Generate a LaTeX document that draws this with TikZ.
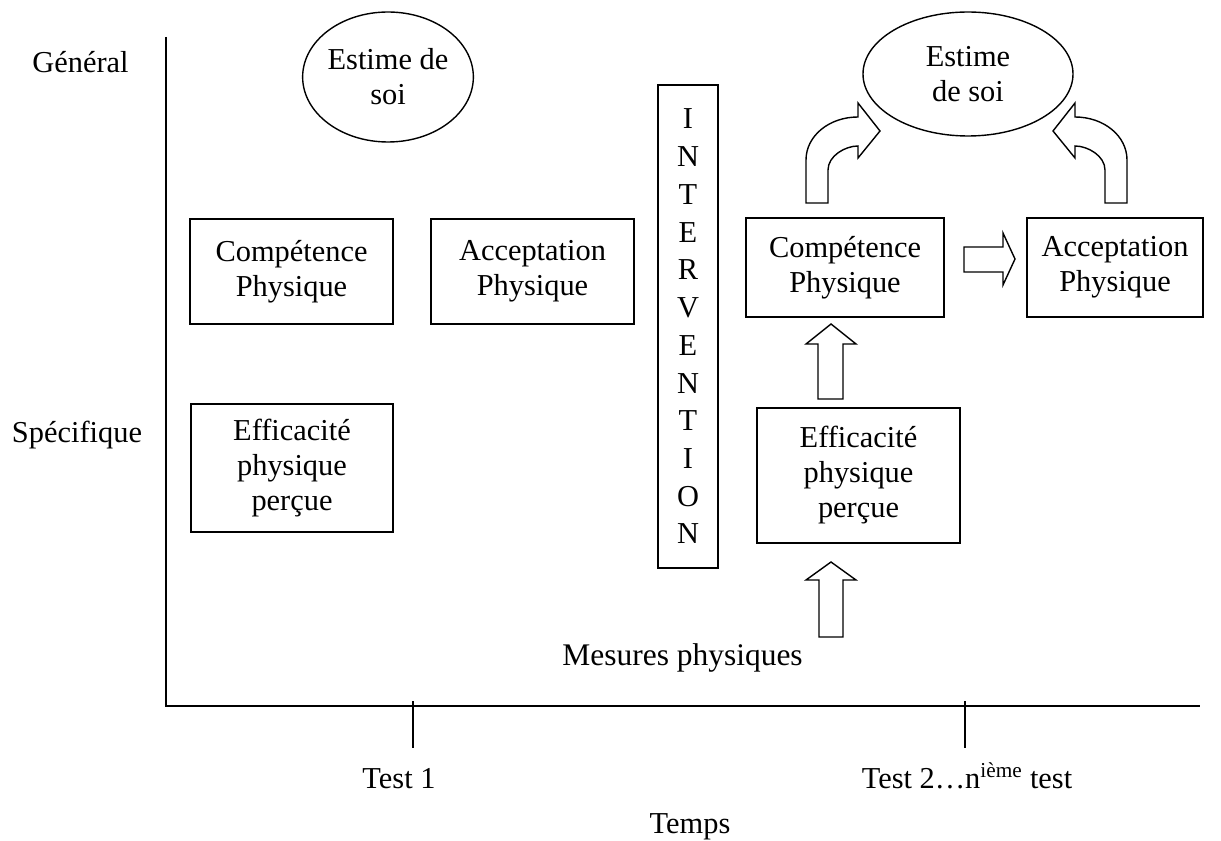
\documentclass[tikz,border=0pt]{standalone}
\usepackage{fontspec}
\setmainfont{Liberation Serif}
\usetikzlibrary{shapes.geometric}
\begin{document}
\begin{tikzpicture}[x=0.75pt,y=-0.75pt,
  every node/.style={font=\fontsize{22.8pt}{26.25pt}\selectfont},
  box/.style={draw,line width=1.05pt,inner sep=0pt,align=center},
  oval/.style={draw,ellipse,line width=1.05pt,inner sep=0pt,align=center},
  blockarrow/.style={draw,line width=1.05pt,line join=miter,fill=white},
  axis/.style={line width=1.5pt},
  lbl/.style={anchor=base,inner sep=0pt}]
\useasboundingbox (0,0) rectangle (1221,841);
% axes
\coordinate (Ytop) at (166,37);
\coordinate (O) at (166,706);
\coordinate (Xend) at (1200,706);
\coordinate (t1a) at (413,701);
\coordinate (t1b) at (413,748);
\coordinate (t2a) at (965,701);
\coordinate (t2b) at (965,748);
\draw[axis] (Ytop) -- (O) -- (Xend);
\draw[axis] (t1a) -- (t1b);
\draw[axis] (t2a) -- (t2b);
% axis labels
\node[lbl] (gen) at (80.5,73) {Général};
\node[lbl] (spec) at (77,443) {Spécifique};
\node[lbl] (test1) at (399,788) {Test 1};
\node[lbl] (test2) at (967,788) {Test 2…n\textsuperscript{ième} test};
\node[lbl] (temps) at (690,833) {Temps};
\node[lbl,anchor=base east,font=\fontsize{23.6pt}{27pt}\selectfont] (mes) at (803,665) {Mesures physiques};
% left column (test 1)
\node[oval,minimum width=127.5pt,minimum height=97.5pt] (est1) at (388,77) {Estime de\\soi};
\node[box,minimum width=152.25pt,minimum height=78.75pt] (comp1) at (291.5,271.5) {Compétence\\Physique};
\node[box,minimum width=152.25pt,minimum height=78.75pt] (acc1) at (532.5,271.5) {Acceptation\\Physique};
\node[box,minimum width=151.5pt,minimum height=96pt] (eff1) at (292,468) {Efficacité\\physique\\perçue};
% intervention
\node[box,minimum width=45pt,minimum height=362.25pt,font=\fontsize{22.8pt}{28.3pt}\selectfont] (inter) at (688,326.5)
  {I\\N\\T\\E\\R\\V\\E\\N\\T\\I\\O\\N};
% right column (test 2)
\node[oval,minimum width=157.5pt,minimum height=93pt] (est2) at (968,74) {Estime\\de soi};
\node[box,minimum width=148.5pt,minimum height=74.25pt] (comp2) at (845,267.5) {Compétence\\Physique};
\node[box,minimum width=132pt,minimum height=74.25pt] (acc2) at (1115,267.5) {Acceptation\\Physique};
\node[box,minimum width=152.25pt,minimum height=101.25pt] (eff2) at (858.5,475.5) {Efficacité\\physique\\perçue};
% block arrows
\draw[blockarrow] (964,247) -- (1003,247) -- (1003,233) -- (1015,259) -- (1003,285) -- (1003,272) -- (964,272) -- cycle;
\draw[blockarrow] (818,399) -- (818,344) -- (806,344) -- (831,324) -- (856,344) -- (843,344) -- (843,399) -- cycle;
\draw[blockarrow] (819,637) -- (819,580) -- (806,580) -- (831,562) -- (856,580) -- (843,580) -- (843,637) -- cycle;
% curved arrows
\draw[blockarrow] (806,203) -- (806,160) .. controls (806,136) and (829,117) .. (858,117) -- (858,103) -- (880,131) -- (858,158) -- (858,146) .. controls (845,146) and (828,156) .. (828,170) -- (828,203) -- cycle;
\draw[blockarrow] (1127,203) -- (1127,160) .. controls (1127,136) and (1104,117) .. (1075,117) -- (1075,103) -- (1053,131) -- (1075,158) -- (1075,146) .. controls (1088,146) and (1105,156) .. (1105,170) -- (1105,203) -- cycle;
\end{tikzpicture}
\end{document}
